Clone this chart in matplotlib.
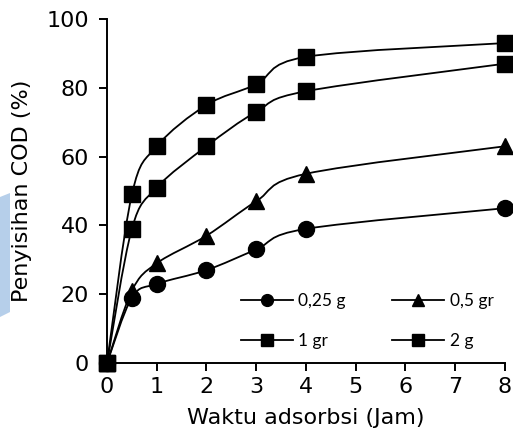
import matplotlib.pyplot as plt
import numpy as np
from matplotlib.path import Path
from matplotlib.patches import PathPatch, Polygon
from matplotlib.lines import Line2D

# data
waktu = [0, 0.5, 1, 2, 3, 4, 8]
g025 = [0, 19, 23, 27, 33, 39, 45]
g05 = [0, 21, 29, 37, 47, 55, 63]
g1 = [0, 39, 51, 63, 73, 79, 87]
g2 = [0, 49, 63, 75, 81, 89, 93]

labels = ['0,25 g', '0,5 gr', '1 gr', '2 g']
markers = ['o', '^', 's', 's']
series = [g025, g05, g1, g2]


def smooth_path(ax, x, y):
    # Excel style smoothed line: cubic bezier through the points,
    # control points computed in display space
    pts = ax.transData.transform(np.column_stack([x, y]))
    n = len(pts)
    verts = [pts[0]]
    codes = [Path.MOVETO]
    for i in range(n - 1):
        p0 = pts[i - 1] if i > 0 else pts[i]
        p1 = pts[i]
        p2 = pts[i + 1]
        p3 = pts[i + 2] if i + 2 < n else pts[i + 1]
        c1 = p1 + (p2 - p0) / 6
        c2 = p2 - (p3 - p1) / 6
        verts += [c1, c2, p2]
        codes += [Path.CURVE4] * 3
    verts = ax.transData.inverted().transform(np.array(verts))
    return Path(verts, codes)


fig = plt.figure(figsize=(5.13, 4.44), dpi=100)
ax = fig.add_axes([0.2086, 0.1824, 0.7754, 0.7748])

ax.set_xlim(0, 8)
ax.set_ylim(0, 100)

for vals, m in zip(series, markers):
    path = smooth_path(ax, waktu, vals)
    ax.add_patch(PathPatch(path, facecolor='none', edgecolor='black', lw=1.3, clip_on=False))
    ms = 11.5 if m != 's' else 11
    ax.plot(waktu, vals, linestyle='none', marker=m, color='black', ms=ms, clip_on=False, zorder=3)

# axes styling
for s in ['top', 'right']:
    ax.spines[s].set_visible(False)
for s in ['left', 'bottom']:
    ax.spines[s].set_linewidth(1.4)
ax.set_xticks(range(0, 9))
ax.set_yticks(range(0, 101, 20))
ax.tick_params(axis='both', labelsize=16, width=1.4, length=6, direction='out')
ax.tick_params(axis='x', pad=4)
ax.tick_params(axis='y', pad=7)

ax.set_ylabel("Penyisihan COD (%)", fontsize=16, labelpad=10)
ax.set_xlabel("Waktu adsorbsi (Jam)", fontsize=16, labelpad=8)

# legend, filled column-wise so order gives rows: 0,25 g / 0,5 gr then 1 gr / 2 g
handles = [Line2D([], [], color='black', lw=1.3, marker=m, ms=8.5 if m != 's' else 8)
           for m in markers]
order = [0, 2, 1, 3]
ax.legend([handles[i] for i in order], [labels[i] for i in order], ncol=2,
          frameon=False, loc='center', bbox_to_anchor=(0.654, 0.123),
          handlelength=3.0, columnspacing=2.7, labelspacing=1.38, handletextpad=0.3,
          prop={'family': 'Lato', 'size': 12.5})

# light blue band on the left edge of the original image
fig.patches.append(Polygon([(0, 1 - 197 / 444), (10 / 513, 1 - 193 / 444),
                            (10 / 513, 1 - 312 / 444), (0, 1 - 317 / 444)],
                           closed=True, transform=fig.transFigure,
                           facecolor='#b6cfea', edgecolor='none'))

plt.savefig('out.png', dpi=100)
